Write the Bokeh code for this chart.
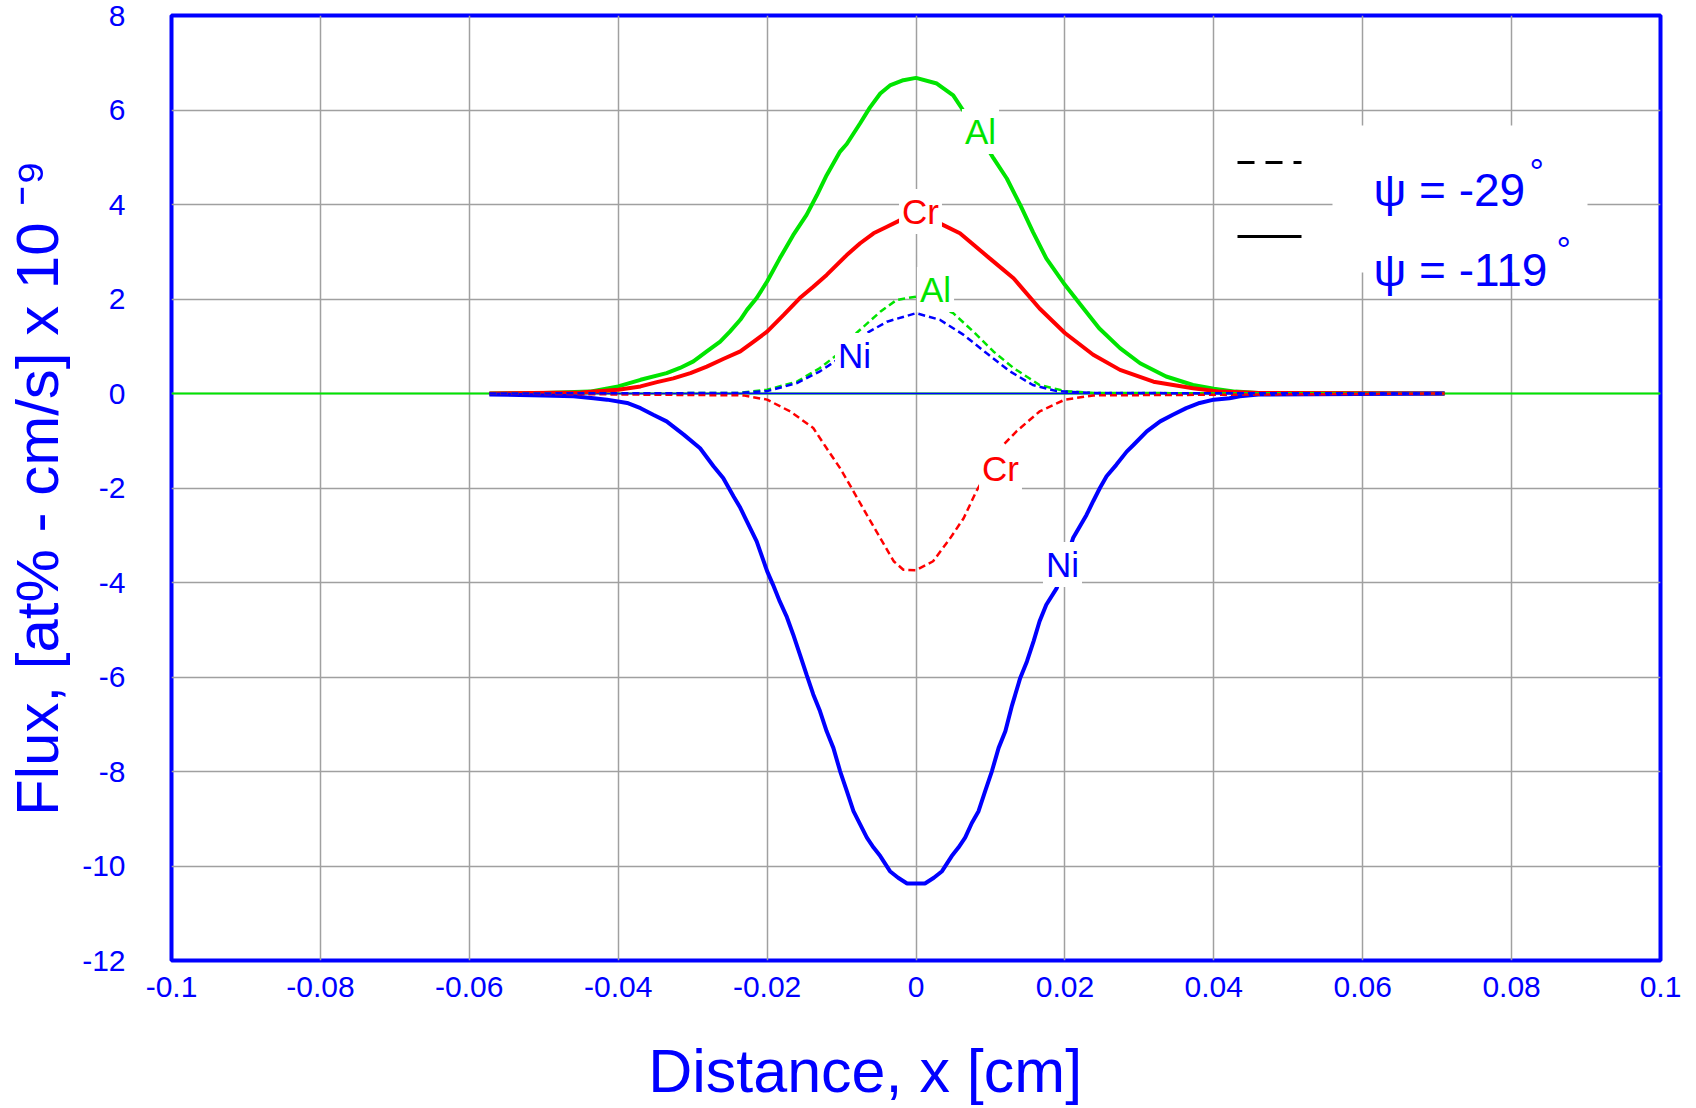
from bokeh.plotting import figure
from bokeh.models import Range1d, FixedTicker, Label, BoxAnnotation
from bokeh.embed import file_html
from bokeh.resources import INLINE

# ---------------- data ----------------
# psi = -119 deg (solid)
al_solid_x = [-0.0573, -0.05, -0.0438, -0.040, -0.037, -0.0335, -0.0317, -0.0299, -0.0281, -0.0263,
              -0.025, -0.0236, -0.0227, -0.0214, -0.020, -0.0183, -0.0165, -0.0147, -0.0133, -0.0120,
              -0.0102, -0.0093, -0.0075, -0.0062, -0.0048, -0.0035, -0.0017, 0.0, 0.0028, 0.0050,
              0.0063, 0.0084, 0.0104, 0.0122, 0.0140, 0.0157, 0.0175, 0.020, 0.0225, 0.0246,
              0.0274, 0.0301, 0.0336, 0.0372, 0.040, 0.0429, 0.046, 0.071]
al_solid_y = [0.0, 0.01, 0.04, 0.15, 0.29, 0.43, 0.54, 0.68, 0.89, 1.10,
              1.31, 1.56, 1.77, 2.02, 2.37, 2.86, 3.35, 3.78, 4.20, 4.62,
              5.12, 5.28, 5.72, 6.05, 6.35, 6.52, 6.63, 6.68, 6.56, 6.31,
              6.00, 5.50, 4.98, 4.55, 3.99, 3.42, 2.86, 2.30, 1.80, 1.38,
              0.96, 0.64, 0.36, 0.18, 0.10, 0.04, 0.01, 0.0]

cr_solid_x = [-0.0573, -0.045, -0.040, -0.037, -0.0348, -0.0326, -0.0303, -0.0281, -0.0259, -0.0236,
              -0.0218, -0.020, -0.0178, -0.0156, -0.0138, -0.0120, -0.0093, -0.0075, -0.0057, -0.0039,
              -0.0021, 0.0, 0.0032, 0.0059, 0.0099, 0.0131, 0.0166, 0.020, 0.0238, 0.0274,
              0.0319, 0.0372, 0.0408, 0.046, 0.071]
cr_solid_y = [0.0, 0.02, 0.08, 0.15, 0.24, 0.32, 0.43, 0.57, 0.73, 0.89,
              1.10, 1.31, 1.66, 2.02, 2.26, 2.51, 2.93, 3.18, 3.39, 3.53,
              3.67, 3.75, 3.60, 3.39, 2.86, 2.44, 1.80, 1.28, 0.82, 0.50,
              0.25, 0.11, 0.04, 0.01, 0.0]

ni_solid_x = [-0.0573, -0.05, -0.046, -0.0433, -0.0415, -0.0388, -0.037, -0.0353, -0.0335, -0.0312,
              -0.0290, -0.0272, -0.0259, -0.0245, -0.0236, -0.0227, -0.0214, -0.020, -0.0192, -0.0183,
              -0.0174, -0.0165, -0.0156, -0.0147, -0.0138, -0.0129, -0.0120, -0.0111, -0.0102, -0.0093,
              -0.0084, -0.0075, -0.0066, -0.0057, -0.0048, -0.0035, -0.0024, -0.0012, 0.0, 0.0012,
              0.0024, 0.0035, 0.0048, 0.0057, 0.0066, 0.0075, 0.0084, 0.0093, 0.0102, 0.0111,
              0.0120, 0.0129, 0.0140, 0.0149, 0.0158, 0.0166, 0.0175, 0.0189, 0.0211, 0.0229,
              0.0238, 0.0247, 0.0256, 0.0269, 0.0283, 0.0292, 0.0310, 0.0328, 0.0345, 0.0363,
              0.0381, 0.040, 0.0421, 0.0435, 0.046, 0.071]
ni_solid_y = [-0.02, -0.04, -0.06, -0.10, -0.13, -0.20, -0.31, -0.45, -0.59, -0.87,
              -1.16, -1.54, -1.79, -2.18, -2.42, -2.71, -3.13, -3.76, -4.05, -4.40,
              -4.71, -5.10, -5.52, -5.95, -6.37, -6.72, -7.15, -7.50, -7.99, -8.41,
              -8.84, -9.12, -9.40, -9.61, -9.79, -10.11, -10.25, -10.37, -10.37, -10.37,
              -10.25, -10.11, -9.79, -9.61, -9.40, -9.09, -8.84, -8.41, -7.99, -7.50,
              -7.15, -6.60, -6.02, -5.67, -5.24, -4.82, -4.47, -4.12, -3.06, -2.57,
              -2.28, -2.00, -1.75, -1.51, -1.23, -1.09, -0.80, -0.59, -0.45, -0.31,
              -0.20, -0.13, -0.10, -0.06, -0.02, 0.0]

# psi = -29 deg (dashed)
al_dash_x = [-0.0573, -0.024, -0.020, -0.016, -0.0129, -0.0106, -0.008, -0.0048, -0.0026, 0.0,
             0.005, 0.0077, 0.0104, 0.0131, 0.0166, 0.020, 0.024, 0.071]
al_dash_y = [0.0, 0.01, 0.08, 0.25, 0.54, 0.82, 1.28, 1.73, 1.98, 2.05,
             1.70, 1.31, 0.89, 0.54, 0.18, 0.05, 0.01, 0.0]

cr_dash_x = [-0.0573, -0.0232, -0.020, -0.0169, -0.0138, -0.0120, -0.0102, -0.0084, -0.0066, -0.0048,
             -0.0030, -0.0017, 0.0, 0.0023, 0.0046, 0.0064, 0.0081, 0.0113, 0.0135, 0.0166,
             0.020, 0.0238, 0.071]
cr_dash_y = [0.0, -0.04, -0.13, -0.38, -0.73, -1.16, -1.58, -2.07, -2.57, -3.06,
             -3.55, -3.73, -3.74, -3.55, -3.06, -2.64, -2.07, -1.16, -0.80, -0.38,
             -0.13, -0.04, 0.0]

ni_dash_x = [-0.0573, -0.024, -0.020, -0.016, -0.0129, -0.0106, -0.0066, -0.0039, 0.0, 0.0032,
             0.0064, 0.0095, 0.0126, 0.0157, 0.0189, 0.024, 0.071]
ni_dash_y = [0.0, 0.01, 0.05, 0.22, 0.47, 0.71, 1.28, 1.52, 1.70, 1.56,
             1.24, 0.85, 0.47, 0.18, 0.05, 0.01, 0.0]

zero_full_x = [-0.1, 0.1]
zero_full_y = [0.0, 0.0]
zero_mid_x = [-0.0573, 0.071]
zero_mid_y = [0.0, 0.0]

x_ticks = [-0.1, -0.08, -0.06, -0.04, -0.02, 0.0, 0.02, 0.04, 0.06, 0.08, 0.1]
x_tick_labels = ["-0.1", "-0.08", "-0.06", "-0.04", "-0.02", "0", "0.02", "0.04", "0.06", "0.08", "0.1"]
y_ticks = [-12, -10, -8, -6, -4, -2, 0, 2, 4, 6, 8]
y_tick_labels = ["-12", "-10", "-8", "-6", "-4", "-2", "0", "2", "4", "6", "8"]

x_title = "Distance, x [cm]"
y_title = "Flux, [at% - cm/s] x 10 \u207b\u2079"

# ---------------- layout helpers ----------------
W, H = 1696, 1108
FL, FR, FT, FB = 171, 1660, 15, 960
X0, X1, Y0, Y1 = -0.1, 0.1, -12.0, 8.0
BASE_FIX = 14  # alphabetic-baseline correction in px


def px2x(px):
    return X0 + (px - FL) * (X1 - X0) / (FR - FL)


def px2y(py):
    return Y1 - (py - FT) * (Y1 - Y0) / (FB - FT)


FONT = "Liberation Sans"
BLUE = "#0000ff"
GREEN = "#00e400"
RED = "#ff0000"
GRID = "#a0a0a0"

p = figure(width=W, height=H, output_backend="svg", toolbar_location=None, title=None,
           x_range=Range1d(X0, X1), y_range=Range1d(Y0, Y1),
           min_border_left=FL, min_border_right=W - FR, min_border_top=FT, min_border_bottom=H - FB)
p.background_fill_color = "white"
p.border_fill_color = "white"
p.outline_line_color = BLUE
p.outline_line_width = 4

p.xaxis.ticker = FixedTicker(ticks=x_ticks)
p.yaxis.ticker = FixedTicker(ticks=y_ticks)
p.xaxis.major_label_overrides = {t: s for t, s in zip(x_ticks, x_tick_labels)}
p.yaxis.major_label_overrides = {t: s for t, s in zip(y_ticks, y_tick_labels)}
for ax in (p.xaxis[0], p.yaxis[0]):
    ax.axis_line_color = None
    ax.major_tick_line_color = None
    ax.minor_tick_line_color = None
    ax.major_label_text_font = FONT
    ax.major_label_text_font_size = "30px"
    ax.major_label_text_color = BLUE
    ax.axis_label_text_font = FONT
    ax.axis_label_text_color = BLUE
    ax.axis_label_text_font_style = "normal"
p.xaxis.major_label_standoff = 10
p.yaxis.major_label_standoff = 40

# x title is shifted left of the frame centre in the reference: pad with no-break spaces
p.xaxis.axis_label = x_title + "\u00a0" * 6
p.xaxis.axis_label_text_font_size = "61px"
p.xaxis.axis_label_standoff = 37
p.yaxis.axis_label = y_title
p.yaxis.axis_label_text_font_size = "60px"
p.yaxis.axis_label_standoff = 8

p.xgrid.grid_line_color = GRID
p.ygrid.grid_line_color = GRID
p.xgrid.grid_line_width = 1.5
p.ygrid.grid_line_width = 1.5

# zero lines
p.line(zero_full_x, zero_full_y, line_color=GREEN, line_width=2)
p.line(zero_mid_x, zero_mid_y, line_color=BLUE, line_width=1.5)

# solid curves (psi = -119)
p.line(al_solid_x, al_solid_y, line_color=GREEN, line_width=4)
p.line(cr_solid_x, cr_solid_y, line_color=RED, line_width=4)
p.line(ni_solid_x, ni_solid_y, line_color=BLUE, line_width=4)
# dashed curves (psi = -29)
DASH = "7 4"
p.line(al_dash_x, al_dash_y, line_color=GREEN, line_width=2.5, line_dash=DASH)
p.line(cr_dash_x, cr_dash_y, line_color=RED, line_width=2.5, line_dash=DASH)
p.line(ni_dash_x, ni_dash_y, line_color=BLUE, line_width=2.5, line_dash=DASH)

# curve labels
curve_labels = [("Al", GREEN, 980, 145), ("Cr", RED, 920, 225), ("Al", GREEN, 935, 303),
                ("Ni", BLUE, 854, 369), ("Cr", RED, 1000, 482), ("Ni", BLUE, 1062, 578)]
for txt, col, cx, by in curve_labels:
    p.add_layout(Label(x=px2x(cx), y=px2y(by - BASE_FIX), text=txt, text_color=col, text_font=FONT,
                       text_font_size="35px", text_align="center", text_baseline="alphabetic",
                       background_fill_color="white", padding=3))

# legend samples
p.line([px2x(1237), px2x(1301)], [px2y(162), px2y(162)], line_color="black", line_width=3,
       line_dash="17 11")
p.line([px2x(1237), px2x(1301)], [px2y(236), px2y(236)], line_color="black", line_width=3)

p.add_layout(BoxAnnotation(left=px2x(1332), right=px2x(1587), top=px2y(125), bottom=px2y(272),
                           fill_color="white", fill_alpha=1.0, line_color=None))
for txt, lx, by, dx, dy in [("\u03c8 = -29", 1373, 203, 1529, 151), ("\u03c8 = -119", 1373, 283, 1556, 229)]:
    p.add_layout(Label(x=px2x(lx), y=px2y(by - BASE_FIX), text=txt, text_color=BLUE, text_font=FONT,
                       text_font_size="46px", text_align="left", text_baseline="alphabetic"))
    p.add_layout(Label(x=px2x(dx), y=px2y(dy), text="\u00b0", text_color=BLUE, text_font=FONT,
                       text_font_size="36px", text_align="left", text_baseline="top"))

open("out.html", "w").write(file_html(p, INLINE))
